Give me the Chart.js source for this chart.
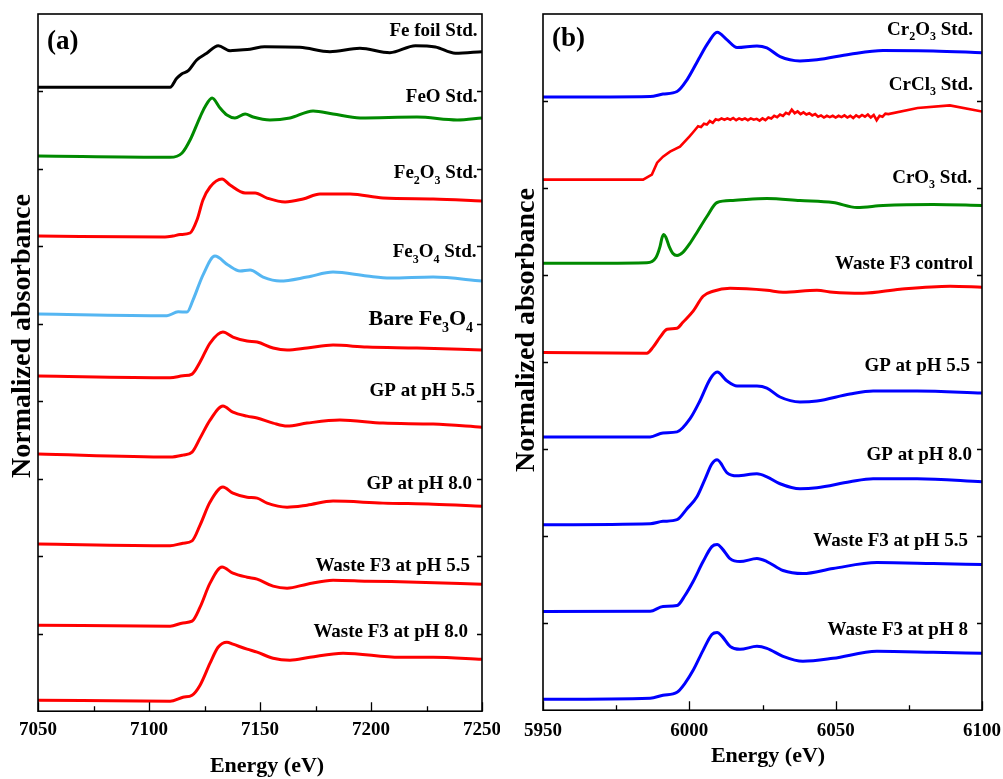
<!DOCTYPE html>
<html>
<head>
<meta charset="utf-8">
<script src="https://cdn.jsdelivr.net/npm/chart.js@4.4.0/dist/chart.umd.min.js"></script>
<style>
  html, body { margin: 0; padding: 0; background: #fff; }
  #wrap { position: relative; width: 1003px; height: 779px; overflow: hidden; }
  .panel { position: absolute; top: 0; height: 779px; }
  #panelA { left: 0; width: 500px; }
  #panelB { left: 500px; width: 503px; }
</style>
</head>
<body>
<div id="wrap">
  <div class="panel" id="panelA"><canvas id="chartA"></canvas></div>
  <div class="panel" id="panelB"><canvas id="chartB"></canvas></div>
</div>
<script>
// ---- Panel (a): Fe K-edge, stacked spectra (y = normalized absorbance + offset) ----
const feFoilE = [7050, 7109.5, 7112.5, 7114.7, 7117.7, 7121.5, 7126, 7131.2, 7136.5, 7141, 7145.5, 7152, 7168, 7181.5, 7195, 7208.5, 7220, 7229, 7238, 7250];
const feFoilY = [8.054, 8.054, 8.170, 8.226, 8.268, 8.406, 8.493, 8.591, 8.527, 8.536, 8.545, 8.578, 8.570, 8.514, 8.558, 8.501, 8.591, 8.574, 8.493, 8.514];

const feoE = [7050, 7109.5, 7114.9, 7118.5, 7123, 7125.2, 7128.4, 7132, 7135.1, 7138.7, 7143.3, 7146.9, 7154.5, 7163.5, 7173.9, 7182.9, 7195.1, 7220.7, 7238.8, 7250];
const feoY = [7.167, 7.150, 7.206, 7.373, 7.670, 7.800, 7.916, 7.787, 7.696, 7.658, 7.709, 7.670, 7.632, 7.658, 7.748, 7.709, 7.658, 7.670, 7.632, 7.658];

const fe2o3E = [7050, 7107.2, 7110.8, 7114, 7118.5, 7121.6, 7124.3, 7127.5, 7132.9, 7136.5, 7143.3, 7147.8, 7153.2, 7161.3, 7169.4, 7177, 7190.6, 7205.4, 7228, 7250];
const fe2o3Y = [6.134, 6.121, 6.134, 6.153, 6.173, 6.340, 6.599, 6.767, 6.870, 6.792, 6.689, 6.689, 6.624, 6.573, 6.612, 6.676, 6.676, 6.624, 6.612, 6.586];

const fe3o4StdE = [7050, 7108.1, 7113.1, 7117.1, 7119.8, 7124.3, 7129.7, 7135.6, 7141, 7145.5, 7151.4, 7159, 7171.2, 7182.9, 7198.2, 7208.6, 7228, 7250];
const fe3o4StdY = [5.127, 5.105, 5.156, 5.152, 5.307, 5.630, 5.875, 5.759, 5.682, 5.695, 5.604, 5.553, 5.604, 5.669, 5.617, 5.591, 5.604, 5.553];

const bareE = [7050, 7109.5, 7115.3, 7119.4, 7123, 7127.5, 7133.3, 7137.8, 7144.2, 7148.7, 7155.9, 7162.2, 7171.2, 7182.9, 7198.2, 7220.7, 7250];
const bareY = [4.326, 4.304, 4.330, 4.352, 4.507, 4.752, 4.894, 4.830, 4.778, 4.765, 4.688, 4.662, 4.688, 4.726, 4.700, 4.688, 4.662];

const gp55aE = [7050, 7109.5, 7115.3, 7119.4, 7123, 7127.5, 7133.3, 7137.8, 7144.2, 7148.7, 7155.9, 7162.2, 7171.2, 7186, 7205.4, 7228, 7250];
const gp55aY = [3.319, 3.280, 3.306, 3.345, 3.525, 3.758, 3.939, 3.861, 3.809, 3.784, 3.719, 3.680, 3.719, 3.758, 3.719, 3.706, 3.667];

const gp80aE = [7050, 7109.5, 7115.3, 7119.4, 7123, 7127.5, 7133.3, 7137.8, 7144.2, 7148.7, 7153.2, 7162.2, 7171.2, 7182.9, 7205.4, 7228, 7250];
const gp80aY = [2.157, 2.135, 2.169, 2.199, 2.402, 2.699, 2.893, 2.815, 2.763, 2.751, 2.686, 2.634, 2.660, 2.712, 2.686, 2.673, 2.647];

const w55aE = [7050, 7109.5, 7115.3, 7119.4, 7123, 7127.5, 7132.9, 7137.8, 7144.2, 7148.7, 7155.9, 7162.2, 7171.2, 7182.9, 7198.2, 7220.7, 7250];
const w55aY = [1.111, 1.098, 1.140, 1.162, 1.343, 1.653, 1.860, 1.782, 1.730, 1.705, 1.614, 1.588, 1.640, 1.692, 1.679, 1.666, 1.640];

const w80aE = [7050, 7109.5, 7115.3, 7119.4, 7123, 7127.5, 7131.1, 7135.1, 7137.8, 7144.2, 7148.7, 7155.9, 7163.5, 7172.5, 7187.4, 7213.1, 7228, 7250];
const w80aY = [0.142, 0.129, 0.181, 0.207, 0.336, 0.620, 0.826, 0.891, 0.865, 0.801, 0.762, 0.684, 0.659, 0.697, 0.749, 0.697, 0.697, 0.671];

// ---- Panel (b): Cr K-edge ----
const cr2o3E = [5950, 5986.6, 5991, 5995.8, 5999.2, 6003.6, 6006.4, 6009.5, 6012.9, 6016.3, 6023.1, 6026.5, 6031, 6037.8, 6043.6, 6054.9, 6066.2, 6083.3, 6100];
const cr2o3Y = [7.045, 7.052, 7.080, 7.109, 7.244, 7.507, 7.668, 7.790, 7.702, 7.614, 7.633, 7.610, 7.510, 7.461, 7.473, 7.538, 7.580, 7.576, 7.556];

const crcl3E = [5950, 5970, 5984.2, 5987.2, 5989, 5991, 5993.4, 5996.8,
  6000, 6001, 6002, 6003, 6004, 6005, 6006, 6007, 6008, 6009, 6010, 6011, 6012, 6013, 6014, 6015, 6016, 6017,
  6018, 6019, 6020, 6021, 6022, 6023, 6024, 6025, 6026, 6027, 6028, 6029, 6030, 6031, 6032, 6033, 6034, 6035,
  6036, 6037, 6038, 6039, 6040, 6041, 6042, 6043, 6044, 6045, 6046, 6047, 6048, 6049, 6050, 6051, 6052, 6053,
  6054, 6055, 6056, 6057, 6058, 6059, 6060, 6061, 6062, 6063, 6064, 6065, 6066, 6067, 6068, 6078, 6089, 6100];
const crcl3Y = [6.097, 6.097, 6.097, 6.155, 6.292, 6.361, 6.418, 6.476,
  6.59, 6.63, 6.67, 6.71, 6.70, 6.74, 6.73, 6.77, 6.75, 6.79, 6.78, 6.80, 6.785, 6.80, 6.785, 6.805, 6.78, 6.80,
  6.785, 6.80, 6.78, 6.80, 6.785, 6.795, 6.775, 6.80, 6.78, 6.81, 6.80, 6.83, 6.815, 6.845, 6.83, 6.865, 6.85, 6.90,
  6.86, 6.88, 6.85, 6.87, 6.845, 6.86, 6.835, 6.85, 6.82, 6.835, 6.81, 6.83, 6.815, 6.83, 6.81, 6.83, 6.815, 6.835,
  6.81, 6.83, 6.805, 6.835, 6.815, 6.84, 6.82, 6.845, 6.81, 6.84, 6.78, 6.83, 6.82, 6.855, 6.85, 6.92, 6.95, 6.88];

const cro3E = [5950, 5985.5, 5988.6, 5990, 5990.7, 5991.3, 5992, 5993.1, 5994.4, 5995.8, 5997.8, 6000.2, 6002.6, 6006, 6009.5, 6014.9, 6026.5, 6037.8, 6049.1, 6057.3, 6066.2, 6083.3, 6100];
const cro3Y = [5.135, 5.143, 5.203, 5.330, 5.433, 5.467, 5.433, 5.330, 5.249, 5.226, 5.261, 5.364, 5.490, 5.673, 5.834, 5.857, 5.880, 5.857, 5.834, 5.777, 5.799, 5.811, 5.799];

const ctrlE = [5950, 5985.5, 5987.6, 5990, 5992.4, 5995.8, 5997.8, 6001.3, 6004.7, 6008.1, 6013.9, 6026.5, 6032, 6043.6, 6049.1, 6059.3, 6072, 6089.1, 6100];
const ctrlY = [4.111, 4.103, 4.172, 4.287, 4.378, 4.390, 4.458, 4.585, 4.756, 4.814, 4.848, 4.825, 4.802, 4.825, 4.802, 4.791, 4.837, 4.871, 4.860];

const gp55bE = [5950, 5986.6, 5991, 5995.8, 6000.2, 6003.6, 6007.1, 6009.5, 6012.9, 6016.3, 6023.1, 6026.5, 6031, 6037.8, 6043.6, 6054.9, 6062.8, 6077.8, 6100];
const gp55bY = [3.140, 3.140, 3.186, 3.198, 3.347, 3.553, 3.805, 3.885, 3.782, 3.725, 3.725, 3.702, 3.599, 3.542, 3.553, 3.633, 3.668, 3.668, 3.645];

const gp80bE = [5950, 5986.6, 5991, 5995.8, 5999.2, 6002.6, 6005.4, 6007.7, 6009.5, 6012.9, 6016.3, 6023.1, 6026.5, 6031, 6037.8, 6043.6, 6054.9, 6062.8, 6077.8, 6100];
const gp80bY = [2.132, 2.143, 2.170, 2.189, 2.315, 2.453, 2.659, 2.831, 2.877, 2.728, 2.693, 2.716, 2.682, 2.602, 2.544, 2.556, 2.625, 2.659, 2.659, 2.625];

const w55bE = [5950, 5986.6, 5991, 5995.8, 5998.5, 6001.3, 6004.7, 6007.7, 6009.5, 6011.2, 6013.9, 6017.3, 6023.1, 6026.5, 6032, 6038.8, 6049.1, 6064.1, 6083.3, 6100];
const w55bY = [1.135, 1.138, 1.192, 1.203, 1.318, 1.479, 1.708, 1.880, 1.903, 1.857, 1.742, 1.708, 1.742, 1.708, 1.605, 1.570, 1.628, 1.696, 1.685, 1.673];

const w80bE = [5950, 5986.6, 5991, 5995.8, 5998.5, 6001.3, 6004.7, 6007.7, 6009.5, 6011.2, 6013.9, 6017.3, 6023.1, 6026.5, 6032, 6038.8, 6049.1, 6064.1, 6083.3, 6100];
const w80bY = [0.126, 0.138, 0.172, 0.206, 0.309, 0.458, 0.688, 0.871, 0.894, 0.848, 0.734, 0.699, 0.734, 0.711, 0.619, 0.562, 0.596, 0.676, 0.665, 0.653];

const RED = '#ff0000', BLUE = '#0000ff', GREEN = '#008a00', BLACK = '#000000', LTBLUE = '#55b6f2';
const FONT = '"Liberation Serif", "Times New Roman", serif';

// curve labels: text pieces [text, isSubscript], anchored at right edge (energy) / baseline (y value)
const labelsA = [
  { parts: [['Fe foil Std.', 0]], e: 7248, v: 8.71 },
  { parts: [['FeO Std.', 0]], e: 7248, v: 7.87 },
  { parts: [['Fe', 0], ['2', 1], ['O', 0], ['3', 1], [' Std.', 0]], e: 7248, v: 6.88 },
  { parts: [['Fe', 0], ['3', 1], ['O', 0], ['4', 1], [' Std.', 0]], e: 7247.5, v: 5.86 },
  { parts: [['Bare Fe', 0], ['3', 1], ['O', 0], ['4', 1]], e: 7246, v: 4.98, size: 22 },
  { parts: [['GP at pH 5.5', 0]], e: 7246.9, v: 4.07 },
  { parts: [['GP at pH 8.0', 0]], e: 7245.5, v: 2.87 },
  { parts: [['Waste F3 at pH 5.5', 0]], e: 7244.6, v: 1.81 },
  { parts: [['Waste F3 at pH 8.0', 0]], e: 7243.7, v: 0.96 }
];
const labelsB = [
  { parts: [['Cr', 0], ['2', 1], ['O', 0], ['3', 1], [' Std.', 0]], e: 6096.9, v: 7.76 },
  { parts: [['CrCl', 0], ['3', 1], [' Std.', 0]], e: 6096.9, v: 7.13 },
  { parts: [['CrO', 0], ['3', 1], [' Std.', 0]], e: 6096.6, v: 6.06 },
  { parts: [['Waste F3 control', 0]], e: 6096.9, v: 5.07 },
  { parts: [['GP at pH 5.5', 0]], e: 6095.9, v: 3.90 },
  { parts: [['GP at pH 8.0', 0]], e: 6096.6, v: 2.88 },
  { parts: [['Waste F3 at pH 5.5', 0]], e: 6095.2, v: 1.89 },
  { parts: [['Waste F3 at pH 8', 0]], e: 6095.2, v: 0.86 }
];

function pts(xs, ys) {
  return xs.map((x, i) => ({ x: x, y: ys[i] }));
}

function line(xs, ys, color, jagged) {
  return {
    data: pts(xs, ys),
    borderColor: color,
    borderWidth: jagged ? 2.6 : 3,
    pointRadius: 0,
    fill: false,
    tension: 0,
    cubicInterpolationMode: jagged ? 'default' : 'monotone'
  };
}

function drawRich(ctx, parts, xRight, yBase, size) {
  const sub = Math.round(size * 0.64);
  const widths = parts.map(([t, s]) => {
    ctx.font = 'bold ' + (s ? sub : size) + 'px ' + FONT;
    return ctx.measureText(t).width;
  });
  let x = xRight - widths.reduce((a, b) => a + b, 0);
  parts.forEach(([t, s], i) => {
    ctx.font = 'bold ' + (s ? sub : size) + 'px ' + FONT;
    ctx.fillText(t, x, yBase + (s ? size * 0.28 : 0));
    x += widths[i];
  });
}

// frame, inward ticks, curve labels and titles
const decorPlugin = {
  id: 'decor',
  afterDraw(chart, args, opts) {
    const ctx = chart.ctx;
    const { left, right, top, bottom } = chart.chartArea;
    const xs = chart.scales.x, ys = chart.scales.y;
    ctx.save();
    ctx.strokeStyle = '#000';
    ctx.lineWidth = 1.6;
    ctx.strokeRect(left, top, right - left, bottom - top);

    ctx.lineWidth = 1.3;
    ctx.beginPath();
    for (let e = xs.min; e <= xs.max + 0.01; e += 25) {
      const px = Math.round(xs.getPixelForValue(e)) + 0.5;
      const major = Math.abs((e - xs.min) % 50) < 0.01;
      ctx.moveTo(px, bottom);
      ctx.lineTo(px, bottom - (major ? 9 : 5));
    }
    for (let v = ys.min + 1; v < ys.max; v += 1) {
      const py = Math.round(ys.getPixelForValue(v)) + 0.5;
      ctx.moveTo(left, py); ctx.lineTo(left + 5, py);
      ctx.moveTo(right, py); ctx.lineTo(right - 5, py);
    }
    ctx.stroke();

    ctx.fillStyle = '#000';
    ctx.textAlign = 'left';
    ctx.textBaseline = 'alphabetic';
    opts.labels.forEach(l => {
      drawRich(ctx, l.parts, xs.getPixelForValue(l.e), ys.getPixelForValue(l.v), l.size || 19);
    });

    // panel letter
    ctx.font = 'bold 27px ' + FONT;
    ctx.fillText(opts.letter, left + 9, top + opts.letterDy);

    // axis titles
    ctx.textAlign = 'center';
    ctx.font = 'bold 22px ' + FONT;
    ctx.fillText('Energy (eV)', left + opts.xTitleDx, opts.xTitleY);

    ctx.translate(opts.yTitleX, opts.yTitleY);
    ctx.rotate(-Math.PI / 2);
    ctx.textBaseline = 'middle';
    ctx.font = 'bold 28px ' + FONT;
    ctx.fillText('Normalized absorbance', 0, 0);
    ctx.restore();
  }
};

function makeChart(id, datasets, cfg) {
  return new Chart(document.getElementById(id), {
    type: 'line',
    data: { datasets: datasets },
    plugins: [decorPlugin],
    options: {
      responsive: true,
      maintainAspectRatio: false,
      animation: false,
      events: [],
      layout: { padding: cfg.padding },
      plugins: {
        legend: { display: false },
        tooltip: { enabled: false },
        decor: cfg.decor
      },
      scales: {
        x: {
          type: 'linear',
          min: cfg.xMin,
          max: cfg.xMax,
          grid: { display: false, drawTicks: false },
          border: { display: false },
          afterFit: scale => { scale.paddingLeft = 0; scale.paddingRight = 0; },
          ticks: {
            stepSize: 50,
            padding: cfg.tickPad,
            color: '#000',
            font: { family: FONT, size: 19, weight: 'bold' },
            callback: v => String(v)
          }
        },
        y: {
          type: 'linear',
          min: 0,
          max: cfg.yMax,
          display: false
        }
      }
    }
  });
}

makeChart('chartA', [
  line(feFoilE, feFoilY, BLACK),
  line(feoE, feoY, GREEN),
  line(fe2o3E, fe2o3Y, RED),
  line(fe3o4StdE, fe3o4StdY, LTBLUE),
  line(bareE, bareY, RED),
  line(gp55aE, gp55aY, RED),
  line(gp80aE, gp80aY, RED),
  line(w55aE, w55aY, RED),
  line(w80aE, w80aY, RED)
], {
  xMin: 7050, xMax: 7250, yMax: 9,
  padding: { left: 38, right: 18, top: 14, bottom: 31 },
  tickPad: 7,
  decor: { labels: labelsA, letter: '(a)', letterDy: 35, xTitleDx: 229, xTitleY: 772, yTitleX: 23, yTitleY: 336 }
});

makeChart('chartB', [
  line(cr2o3E, cr2o3Y, BLUE),
  line(crcl3E, crcl3Y, RED, true),
  line(cro3E, cro3Y, GREEN),
  line(ctrlE, ctrlY, RED),
  line(gp55bE, gp55bY, BLUE),
  line(gp80bE, gp80bY, BLUE),
  line(w55bE, w55bY, BLUE),
  line(w80bE, w80bY, BLUE)
], {
  xMin: 5950, xMax: 6100, yMax: 8,
  padding: { left: 43, right: 21, top: 14, bottom: 28 },
  tickPad: 9,
  decor: { labels: labelsB, letter: '(b)', letterDy: 32, xTitleDx: 225, xTitleY: 762, yTitleX: 27, yTitleY: 330 }
});
</script>
</body>
</html>
